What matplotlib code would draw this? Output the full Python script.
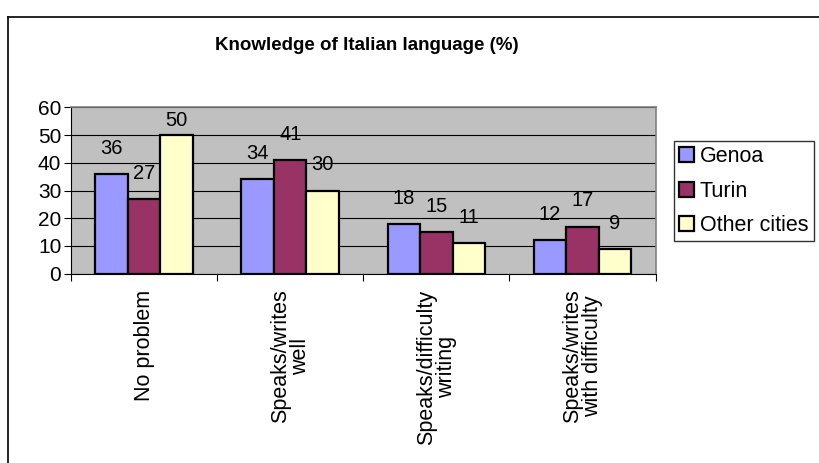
import matplotlib
matplotlib.use("Agg")
import matplotlib.pyplot as plt
from matplotlib.lines import Line2D
import numpy as np

plt.rcParams['font.family'] = ['Liberation Sans', 'DejaVu Sans']

categories = ["No problem", "Speaks/writes\nwell", "Speaks/difficulty\nwriting", "Speaks/writes\nwith difficulty"]
series_names = ["Genoa", "Turin", "Other cities"]
genoa = [36, 34, 18, 12]
turin = [27, 41, 15, 17]
other = [50, 30, 11, 9]
yticks = [0, 10, 20, 30, 40, 50, 60]

colors = ["#9999FF", "#993366", "#FFFFCC"]

fig = plt.figure(figsize=(8.19, 4.63), dpi=100)
W, H = 819, 463
ax = fig.add_axes([71 / W, 1 - 273.7 / H, (655.5 - 71) / W, (273.7 - 107.3) / H])
ax.set_facecolor("#C0C0C0")

x = np.arange(len(categories))
bw = 1 / 4.5
ymax = 60
for i, (vals, name, c) in enumerate(zip([genoa, turin, other], series_names, colors)):
    pos = x + (i - 1) * bw
    ax.bar(pos, vals, width=bw, color=c, edgecolor="black", linewidth=1.6, label=name, zorder=3)
    for px, v in zip(pos, vals):
        ylab = min(v + 5.8, ymax - 8.2)
        ax.text(px, ylab, str(v), ha="center", va="bottom", fontsize=14.5, zorder=4)

ax.set_xlim(-0.5, len(categories) - 0.5)
ax.set_ylim(0, ymax)
ax.set_yticks(yticks)
ax.set_yticklabels([str(t) for t in yticks], fontsize=15)
ax.yaxis.grid(True, color="black", linewidth=0.8, zorder=1)
ax.set_axisbelow(True)

ax.set_xticks(np.arange(len(categories) + 1) - 0.5)
ax.set_xticklabels([])
ax.tick_params(axis="x", length=5, width=0.8, direction="out", color="black")
ax.tick_params(axis="y", length=5, width=0.8, direction="out", color="black", pad=2)
for xi, lab in zip(x, categories):
    ax.text(xi, -0.095, lab, transform=ax.get_xaxis_transform(), rotation=90,
            ha="center", va="top", multialignment="center", fontsize=15.5, linespacing=0.95)

for s in ["top", "right"]:
    ax.spines[s].set_color("#808080")
    ax.spines[s].set_linewidth(1.2)
ax.spines["left"].set_color("black")
ax.spines["bottom"].set_color("black")

fig.text(0.448, 1 - 45 / H, "Knowledge of Italian language (%)", ha="center", va="center",
         fontsize=13.5, fontweight="bold")

leg = fig.legend(loc="upper left", bbox_to_anchor=(674 / W, 1 - 141 / H), fontsize=15.5,
                 frameon=True, fancybox=False, edgecolor="black", handlelength=0.7,
                 handleheight=0.7, handletextpad=0.25, borderpad=0.25, labelspacing=0.62,
                 borderaxespad=0)
leg.get_frame().set_linewidth(1.0)
for p in leg.get_patches():
    p.set_linewidth(1.6)

fig.add_artist(Line2D([8 / W, 1], [1 - 17 / H, 1 - 17 / H], color="black", linewidth=1.2))
fig.add_artist(Line2D([8 / W, 8 / W], [0, 1 - 17 / H], color="black", linewidth=1.2))

fig.savefig("out.png", dpi=100)
